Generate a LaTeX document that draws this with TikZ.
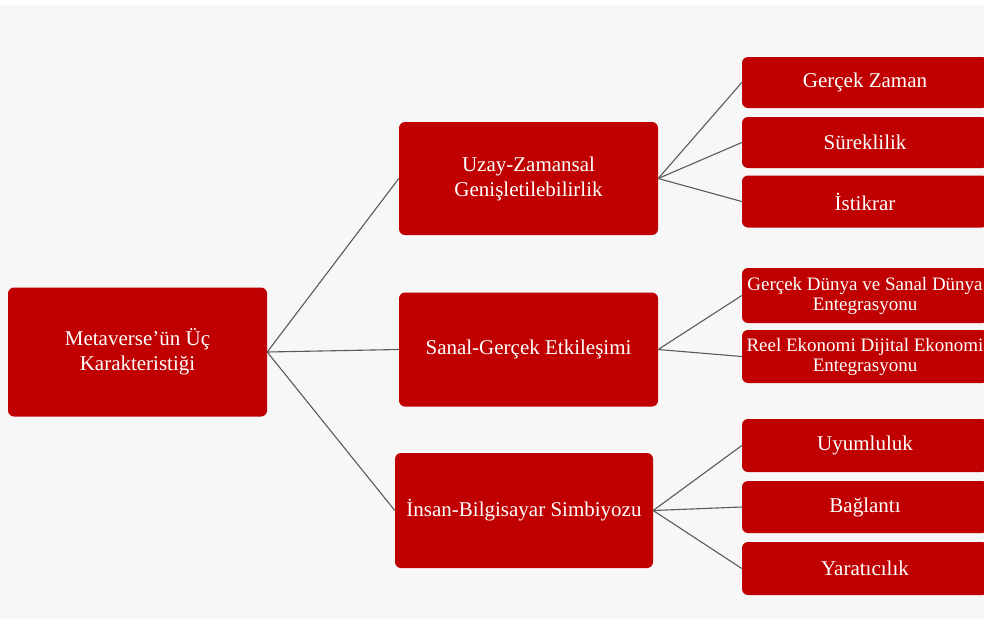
\documentclass[tikz,border=0pt]{standalone}
\usepackage{fontspec}
\setmainfont{Liberation Serif}
\definecolor{boxred}{HTML}{C00000}
\definecolor{bggray}{HTML}{F7F7F7}
\definecolor{linegray}{HTML}{5A5A5A}
\begin{document}
\begin{tikzpicture}[x=1pt,y=-1pt,
  box/.style={fill=boxred, draw=none, rounded corners=6pt, text=white, align=center,
    inner sep=2pt, font=\fontsize{21}{25}\selectfont},
  rootbox/.style={box, minimum width=259pt, minimum height=129pt},
  midbox/.style={box, minimum width=259pt, minimum height=114pt},
  leafbox/.style={box, minimum width=246pt, minimum height=52pt},
  longleaf/.style={leafbox, font=\fontsize{19}{20}\selectfont},
  conn/.style={draw=linegray, line width=1.1pt}
]
\useasboundingbox (0,0) rectangle (984,619);
\fill[bggray] (0,0) rectangle (984,619);
\fill[white] (0,0) rectangle (984,5);

\node[rootbox] (root) at (137.5,352) {Metaverse’ün Üç\\Karakteristiği};

\node[midbox, minimum height=113pt] (m1) at (528.5,178.5) {Uzay-Zamansal\\Genişletilebilirlik};
\node[midbox] (m2) at (528.5,349.5) {Sanal-Gerçek Etkileşimi};
\node[midbox, minimum width=258pt, minimum height=115pt] (m3) at (524,510.5) {İnsan-Bilgisayar Simbiyozu};

\node[leafbox, minimum height=51pt] (l1) at (865,82.5) {Gerçek Zaman};
\node[leafbox, minimum height=51pt] (l2) at (865,142.5) {Süreklilik};
\node[leafbox, minimum height=52pt] (l3) at (865,201.5) {İstikrar};

\node[longleaf, minimum height=55pt] (l4) at (865,295.5) {Gerçek Dünya ve Sanal Dünya\\Entegrasyonu};
\node[longleaf, minimum height=53pt] (l5) at (865,356.5) {Reel Ekonomi Dijital Ekonomi\\Entegrasyonu};

\node[leafbox, minimum height=53pt] (l6) at (865,445.5) {Uyumluluk};
\node[leafbox, minimum height=52pt] (l7) at (865,507) {Bağlantı};
\node[leafbox, minimum height=53pt] (l8) at (865,568.5) {Yaratıcılık};

\path[conn] (root.east) -- (m1.west);
\path[conn] (root.east) -- (m2.west);
\path[conn] (root.east) -- (m3.west);

\path[conn] (m1.east) -- (l1.west);
\path[conn] (m1.east) -- (l2.west);
\path[conn] (m1.east) -- (l3.west);

\path[conn] (m2.east) -- (l4.west);
\path[conn] (m2.east) -- (l5.west);

\path[conn] (m3.east) -- (l6.west);
\path[conn] (m3.east) -- (l7.west);
\path[conn] (m3.east) -- (l8.west);
\end{tikzpicture}
\end{document}
